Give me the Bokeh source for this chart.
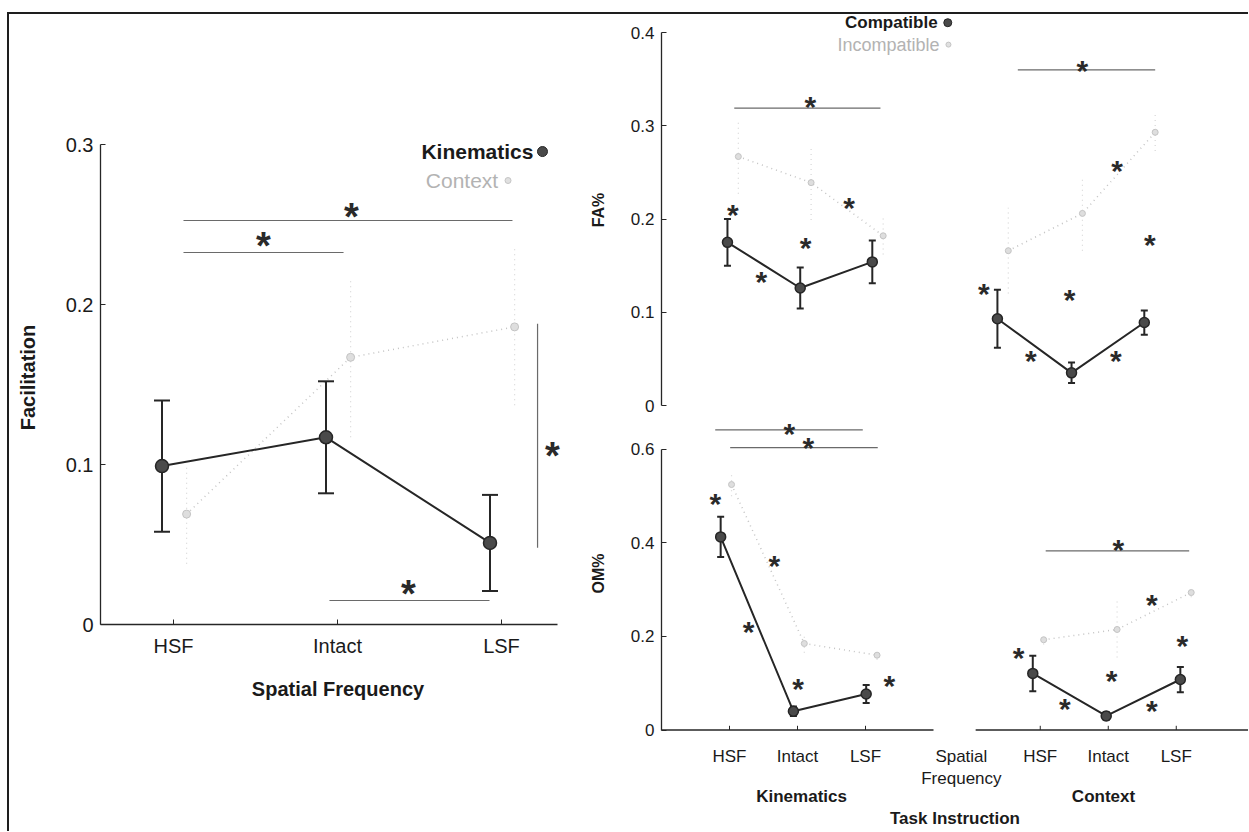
from bokeh.plotting import figure
from bokeh.models import FixedTicker, Range1d, LinearAxis
from bokeh.layouts import row, column
from bokeh.embed import file_html
from bokeh.resources import INLINE
from bokeh.core.properties import value

FONT = "Liberation Sans"
DARK = "#262626"
MARK = "#4a4a4a"
GRAY = "#c4c4c4"
SIG = "#6a6a6a"

# ---------------- data ----------------
sf_labels = ["HSF", "Intact", "LSF"]
group_labels = ["Kinematics", "Context"]

# Facilitation (left panel)
facil_kin = [0.099, 0.117, 0.051]
facil_kin_err = [0.041, 0.035, 0.030]
facil_ctx = [0.069, 0.167, 0.186]
facil_ctx_err = [0.031, 0.050, 0.049]

# FA% (top right)
fa_kin_comp = [0.175, 0.126, 0.154]
fa_kin_comp_err = [0.025, 0.022, 0.023]
fa_kin_inc = [0.267, 0.239, 0.182]
fa_kin_inc_err = [0.040, 0.040, 0.020]
fa_ctx_comp = [0.093, 0.035, 0.089]
fa_ctx_comp_err = [0.031, 0.011, 0.013]
fa_ctx_inc = [0.166, 0.206, 0.293]
fa_ctx_inc_err = [0.046, 0.040, 0.020]

# OM% (bottom right)
om_kin_comp = [0.413, 0.040, 0.077]
om_kin_comp_err = [0.043, 0.010, 0.019]
om_kin_inc = [0.525, 0.185, 0.160]
om_kin_inc_err = [0.025, 0.020, 0.010]
om_ctx_comp = [0.121, 0.030, 0.108]
om_ctx_comp_err = [0.038, 0.008, 0.027]
om_ctx_inc = [0.193, 0.215, 0.294]
om_ctx_inc_err = [0.010, 0.060, 0.010]

# significance bars (x0, x1, y) and stars (x, y)
facil_bars = [(1.061, 3.067, 0.2525), (1.061, 2.037, 0.2325), (1.951, 2.927, 0.015)]
facil_vbar = [(3.22, 0.048, 0.188)]
facil_stars = [(2.085, 0.2606), (1.549, 0.242), (2.433, 0.025), (3.311, 0.111)]

fa_bars = [(1.07, 3.22, 0.319), (5.24, 7.26, 0.360)]
fa_stars = [(2.19, 0.328), (6.19, 0.367),
            (1.05, 0.212), (1.47, 0.140), (2.12, 0.177), (2.76, 0.220),
            (4.74, 0.128), (5.43, 0.056), (6.00, 0.121), (6.68, 0.056),
            (6.70, 0.260), (7.18, 0.180)]

om_bars = [(0.79, 2.96, 0.642), (1.01, 3.18, 0.604), (5.65, 7.76, 0.383)]
om_stars = [(1.88, 0.650), (2.16, 0.619), (6.72, 0.401),
            (0.79, 0.500), (1.28, 0.225), (1.66, 0.366), (2.01, 0.104), (3.35, 0.110),
            (5.25, 0.170), (5.93, 0.062), (6.62, 0.121), (7.21, 0.283), (7.21, 0.057),
            (7.66, 0.196)]

# ---------------- layout constants ----------------
left_x = [1, 2, 3]
left_off_kin, left_off_ctx = -0.07, 0.08
fa_kin_x = [0.97, 2.04, 3.10]
fa_ctx_x = [4.94, 6.03, 7.10]
om_kin_x = [0.87, 1.94, 3.01]
om_ctx_x = [5.46, 6.54, 7.63]
inc_off = 0.16
right_ticks = [1, 2, 3, 5.57, 6.57, 7.57]
sf_title_x = 4.41
group_x = [2.06, 6.50]


def style_axis(ax, font_size):
    ax.axis_line_color = DARK
    ax.axis_line_width = 1.3
    ax.major_tick_in = 5
    ax.major_tick_out = 0
    ax.major_tick_line_color = DARK
    ax.minor_tick_line_color = None
    ax.major_label_text_font = FONT
    ax.major_label_text_font_size = font_size
    ax.major_label_text_color = "#1a1a1a"
    ax.axis_label_text_font = FONT
    ax.axis_label_text_font_style = "bold"
    ax.axis_label_text_color = "#1a1a1a"


def base_fig(w, h, xr, yr, mb, x_axis=True):
    p = figure(width=w, height=h, x_range=Range1d(*xr), y_range=Range1d(*yr),
               output_backend="svg", toolbar_location=None,
               x_axis_location="below" if x_axis else None,
               min_border_left=mb[0], min_border_right=mb[1],
               min_border_top=mb[2], min_border_bottom=mb[3])
    p.outline_line_color = None
    p.xgrid.visible = False
    p.ygrid.visible = False
    p.background_fill_color = "white"
    p.border_fill_color = "white"
    return p


def series(p, xs, ys, errs, dark, msize, cap):
    lo = [y - e for y, e in zip(ys, errs)]
    hi = [y + e for y, e in zip(ys, errs)]
    if dark:
        p.segment(x0=xs, y0=lo, x1=xs, y1=hi, line_color=DARK, line_width=2)
        p.scatter(xs, lo, marker="dash", size=cap, line_color=DARK, line_width=2)
        p.scatter(xs, hi, marker="dash", size=cap, line_color=DARK, line_width=2)
        p.line(xs, ys, line_color=DARK, line_width=2)
        p.scatter(xs, ys, marker="circle", size=msize, fill_color=MARK,
                  line_color=DARK, line_width=1.5)
    else:
        p.segment(x0=xs, y0=lo, x1=xs, y1=hi, line_color="#d6d6d6",
                  line_width=1.2, line_dash="1 4")
        p.line(xs, ys, line_color=GRAY, line_width=1.5, line_dash="1 4")
        p.scatter(xs, ys, marker="circle", size=msize, fill_color="#dedede",
                  line_color=GRAY, line_width=1)


def sig(p, bars, stars, fsize, yoff, vbars=()):
    if bars:
        p.segment(x0=[b[0] for b in bars], y0=[b[2] for b in bars],
                  x1=[b[1] for b in bars], y1=[b[2] for b in bars],
                  line_color=SIG, line_width=1.2)
    if vbars:
        p.segment(x0=[b[0] for b in vbars], y0=[b[1] for b in vbars],
                  x1=[b[0] for b in vbars], y1=[b[2] for b in vbars],
                  line_color=SIG, line_width=1.2)
    p.text(x=[s[0] for s in stars], y=[s[1] for s in stars], text=["*"] * len(stars),
           text_font=value(FONT), text_font_size=fsize, text_font_style="bold",
           text_align="center", text_baseline="middle", y_offset=yoff,
           text_color="#2a2a2a")


# ---------------- left panel ----------------
pl = base_fig(575, 817, (0.555, 0.555 + 475 / 164), (0, 0.3 + 14 / 1600), (91, 9, 116, 207))
series(pl, [x + left_off_ctx for x in left_x], facil_ctx, facil_ctx_err, False, 8, 10)
series(pl, [x + left_off_kin for x in left_x], facil_kin, facil_kin_err, True, 13, 16)
sig(pl, facil_bars, facil_stars, "38px", 9, facil_vbar)
pl.text(x=[3.195], y=[0.2956], text=["Kinematics"], text_font=value(FONT),
        text_font_size="21px", text_font_style="bold", text_align="right",
        text_baseline="middle", text_color="#1a1a1a")
pl.scatter([3.25], [0.2956], marker="circle", size=10, fill_color=MARK, line_color=DARK)
pl.text(x=[2.98], y=[0.2775], text=["Context"], text_font=value(FONT),
        text_font_size="21px", text_align="right", text_baseline="middle",
        text_color="#b3b3b3")
pl.scatter([3.04], [0.2775], marker="circle", size=6, fill_color="#e0e0e0", line_color=GRAY)

style_axis(pl.xaxis[0], "20px")
style_axis(pl.yaxis[0], "20px")
pl.xaxis.ticker = FixedTicker(ticks=left_x)
pl.xaxis.major_label_overrides = {1: sf_labels[0], 2: sf_labels[1], 3: sf_labels[2]}
pl.xaxis.bounds = (0.555, 3.342)
pl.xaxis.major_label_standoff = 10
pl.xaxis.axis_label = "Spatial Frequency"
pl.xaxis.axis_label_text_font_size = "20px"
pl.xaxis.axis_label_standoff = 18
pl.yaxis.ticker = FixedTicker(ticks=[0, 0.1, 0.2, 0.3])
pl.yaxis.major_label_overrides = {0: "0", 0.1: "0.1", 0.2: "0.2", 0.3: "0.3"}
pl.yaxis.bounds = (0, 0.3)
pl.yaxis.major_label_standoff = 7
pl.yaxis.axis_label = "Facilitation"
pl.yaxis.axis_label_text_font_size = "20px"
pl.yaxis.axis_label_standoff = 24

# ---------------- top right (FA%) ----------------
RX = (0, (1248 - 661) / 68)
pt = base_fig(664, 401, RX, (0, (405 - 14) / 932.5), (77, 0, 0, 10), x_axis=False)
series(pt, [x + inc_off for x in fa_kin_x], fa_kin_inc, fa_kin_inc_err, False, 6, 6)
series(pt, [x + inc_off for x in fa_ctx_x], fa_ctx_inc, fa_ctx_inc_err, False, 6, 6)
series(pt, fa_kin_x, fa_kin_comp, fa_kin_comp_err, True, 10, 7)
series(pt, fa_ctx_x, fa_ctx_comp, fa_ctx_comp_err, True, 10, 7)
sig(pt, fa_bars, fa_stars, "30px", 7)
pt.text(x=[4.06], y=[0.4105], text=["Compatible"], text_font=value(FONT),
        text_font_size="17px", text_font_style="bold", text_align="right",
        text_baseline="middle", text_color="#1a1a1a")
pt.scatter([4.21], [0.4105], marker="circle", size=8, fill_color=MARK, line_color=DARK)
pt.text(x=[4.09], y=[0.387], text=["Incompatible"], text_font=value(FONT),
        text_font_size="18px", text_align="right", text_baseline="middle",
        text_color="#b3b3b3")
pt.scatter([4.22], [0.387], marker="circle", size=5, fill_color="#e0e0e0", line_color=GRAY)
style_axis(pt.yaxis[0], "17px")
pt.yaxis.ticker = FixedTicker(ticks=[0, 0.1, 0.2, 0.3, 0.4])
pt.yaxis.major_label_overrides = {0: "0", 0.1: "0.1", 0.2: "0.2", 0.3: "0.3", 0.4: "0.4"}
pt.yaxis.bounds = (0, 0.4)
pt.yaxis.major_label_standoff = 7
pt.yaxis.axis_label = "FA%"
pt.yaxis.axis_label_text_font_size = "16px"
pt.yaxis.axis_label_standoff = 21

# ---------------- bottom right (OM%) ----------------
pb = base_fig(664, 416, RX, (-1.5 / 468.3, (730 - 415) / 468.3), (77, 0, 0, 100))
series(pb, [x + inc_off for x in om_kin_x], om_kin_inc, om_kin_inc_err, False, 6, 6)
series(pb, [x + inc_off for x in om_ctx_x], om_ctx_inc, om_ctx_inc_err, False, 6, 6)
series(pb, om_kin_x, om_kin_comp, om_kin_comp_err, True, 10, 7)
series(pb, om_ctx_x, om_ctx_comp, om_ctx_comp_err, True, 10, 7)
sig(pb, om_bars, om_stars, "30px", 7)
# broken x-axis line and inward tick marks
pb.segment(x0=[0, 4.62], y0=[0, 0], x1=[4.0, RX[1]], y1=[0, 0], line_color=DARK, line_width=1.3)
pb.segment(x0=right_ticks, y0=[0] * 6, x1=right_ticks, y1=[0.009] * 6,
           line_color=DARK, line_width=1)

style_axis(pb.xaxis[0], "17px")
style_axis(pb.yaxis[0], "17px")
pb.xaxis.axis_line_color = None
pb.xaxis.major_tick_line_color = None
pb.xaxis.ticker = FixedTicker(ticks=right_ticks + [sf_title_x])
ovr = {t: sf_labels[i % 3] for i, t in enumerate(right_ticks)}
ovr[sf_title_x] = "Spatial\nFrequency"
pb.xaxis.major_label_overrides = ovr
pb.xaxis.major_label_standoff = 15
pb.yaxis.ticker = FixedTicker(ticks=[0, 0.2, 0.4, 0.6])
pb.yaxis.major_label_overrides = {0: "0", 0.2: "0.2", 0.4: "0.4", 0.6: "0.6"}
pb.yaxis.bounds = (0, 0.6)
pb.yaxis.major_label_standoff = 7
pb.yaxis.axis_label = "OM%"
pb.yaxis.axis_label_text_font_size = "16px"
pb.yaxis.axis_label_standoff = 21

gax = LinearAxis(ticker=FixedTicker(ticks=group_x),
                 major_label_overrides={group_x[0]: group_labels[0], group_x[1]: group_labels[1]})
style_axis(gax, "17px")
gax.axis_line_color = None
gax.major_tick_line_color = None
gax.major_label_text_font_style = "bold"
gax.major_label_standoff = -5
gax.axis_label = "Task Instruction"
gax.axis_label_text_font_size = "17px"
gax.axis_label_standoff = 0
pb.add_layout(gax, "below")

layout = row(pl, column(pt, pb), margin=(12, 0, 0, 7),
             styles={"border-top": "2px solid #1e1e1e", "border-left": "2px solid #1e1e1e"})

open("out.html", "w").write(file_html(layout, INLINE))
